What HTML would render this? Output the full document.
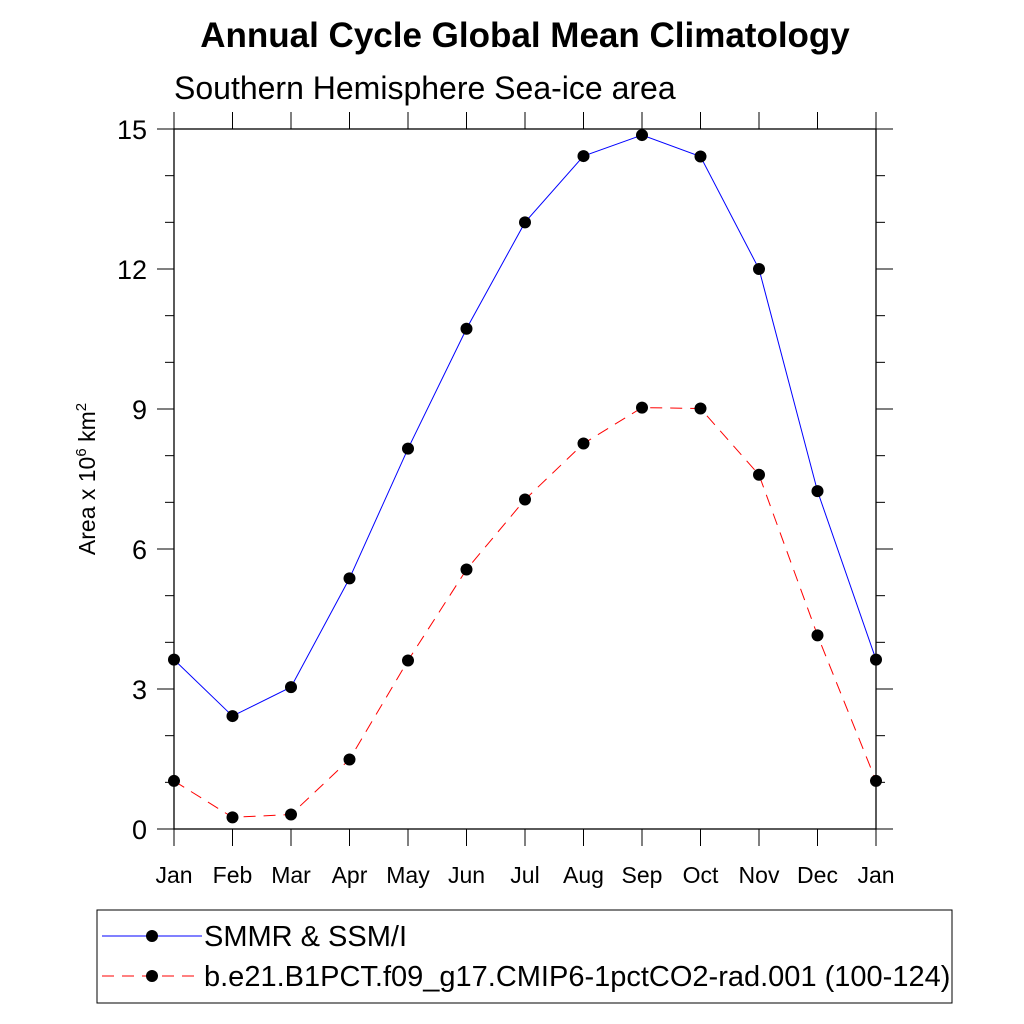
<!DOCTYPE html>
<html><head><meta charset="utf-8"><style>
body{margin:0;background:#fff}
svg{display:block;font-family:"Liberation Sans",sans-serif}
</style></head><body>
<svg id="c" width="1024" height="1024" viewBox="0 0 1024 1024">
<text x="525" y="47" text-anchor="middle" font-size="35" font-weight="bold">Annual Cycle Global Mean Climatology</text>
<text x="174" y="99" font-size="32">Southern Hemisphere Sea-ice area</text>
<text transform="translate(95,479) rotate(-90)" text-anchor="middle" font-size="23">Area x 10<tspan dy="-9" font-size="15">6</tspan><tspan dy="9"> km</tspan><tspan dy="-9" font-size="15">2</tspan></text>
<g id="axes"></g>
<g id="series"></g>
<rect x="97" y="910" width="855" height="93" fill="none" stroke="#000" stroke-width="1"/>
<line x1="102" y1="936" x2="202" y2="936" stroke="#00f" stroke-width="1"/>
<circle cx="152" cy="936" r="6" fill="#000"/>
<text x="204" y="946" font-size="29">SMMR &amp; SSM/I</text>
<line x1="102" y1="976" x2="202" y2="976" stroke="#f00" stroke-width="1" stroke-dasharray="12,8"/>
<circle cx="152" cy="976" r="6" fill="#000"/>
<text x="204" y="986" font-size="29">b.e21.B1PCT.f09_g17.CMIP6-1pctCO2-rad.001 (100-124)</text>
</svg>
<script>
const months=["Jan","Feb","Mar","Apr","May","Jun","Jul","Aug","Sep","Oct","Nov","Dec","Jan"];
const obsValues=[3.63,2.42,3.04,5.37,8.15,10.72,13.0,14.42,14.87,14.41,12.0,7.24,3.63];
const modelValues=[1.03,0.25,0.31,1.49,3.61,5.56,7.06,8.26,9.03,9.01,7.59,4.15,1.03];
const yTicks=[0,3,6,9,12,15];
const NS="http://www.w3.org/2000/svg";
const L=174,R=876,T=129,B=829;
const xs=i=>L+(R-L)*i/(months.length-1);
const ys=v=>B-(B-T)*v/15;
function mk(tag,attrs,parent){const e=document.createElementNS(NS,tag);for(const k in attrs)e.setAttribute(k,attrs[k]);parent.appendChild(e);return e;}
const ax=document.getElementById('axes'),sg=document.getElementById('series');
let f=mk('rect',{x:L,y:T,width:R-L,height:B-T,fill:'none',stroke:'#000','stroke-width':1.3},ax);


for(let v=0;v<=15;v++){
  const major=v%3===0,len=major?17:9,y=ys(v);
  let t1=mk('line',{x1:L-len,y1:y,x2:L,y2:y,stroke:'#000','stroke-width':1},ax);
  
  
  let t2=mk('line',{x1:R,y1:y,x2:R+len,y2:y,stroke:'#000','stroke-width':1},ax);
  
  
}
yTicks.forEach(v=>{
  let t=mk('text',{x:L-27,y:ys(v)+10,'text-anchor':'end','font-size':27},ax);t.textContent=v;
  
  
});
months.forEach((m,i)=>{
  const x=xs(i);
  let a=mk('line',{x1:x,y1:B,x2:x,y2:B+17,stroke:'#000','stroke-width':1},ax);
  
  
  let b=mk('line',{x1:x,y1:T-17,x2:x,y2:T,stroke:'#000','stroke-width':1},ax);
  
  
  let t=mk('text',{x:x,y:883,'text-anchor':'middle','font-size':23},ax);t.textContent=m;
  
  
});
function series(vals,color,dash,name){
  let p=mk('polyline',{points:vals.map((v,i)=>xs(i)+','+ys(v)).join(' '),fill:'none',stroke:color,'stroke-width':1,'stroke-dasharray':dash},sg);
  
  
  vals.forEach((v,i)=>{
    let c=mk('circle',{cx:xs(i),cy:ys(v),r:6,fill:'#000'},sg);
    
    
  });
}
series(obsValues,'#00f','none','obs');
series(modelValues,'#f00','12,8','model');
</script>
</body></html>
